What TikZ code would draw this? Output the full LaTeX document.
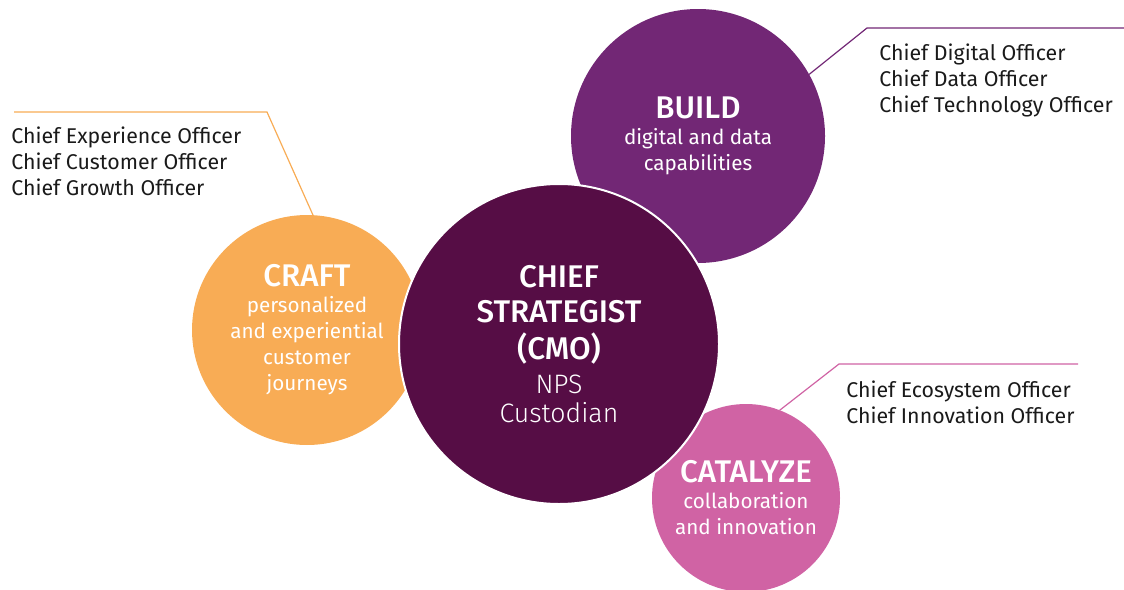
\documentclass[tikz,border=0pt]{standalone}
\usepackage{fontspec}
\setmainfont{Fira Sans}
\newfontfamily\lightfont{Fira Sans Light}
\newfontfamily\midfont{Fira Sans Medium}
\usetikzlibrary{positioning}
\definecolor{plum}{HTML}{560D45}
\definecolor{grape}{HTML}{722775}
\definecolor{apricot}{HTML}{F8AC55}
\definecolor{orchid}{HTML}{D063A4}
\definecolor{ink}{HTML}{1A1A1A}
\newcommand\headfont{\midfont\fontsize{23.5}{24}\selectfont}
\newcommand\hubfont{\midfont\fontsize{23.5}{26}\selectfont}
\newcommand\bodyfont{\normalfont\fontsize{15.5}{19.5}\selectfont}
\newcommand\listfont{\fontsize{16}{19.5}\selectfont}
\newcommand\thinfont{\lightfont\fontsize{20}{22}\selectfont}

\begin{document}
\begin{tikzpicture}[x=0.75pt,y=-0.75pt,
    blob/.style={circle,inner sep=0pt,outer sep=0pt,text=white,align=center,font=\bodyfont},
    officers/.style={anchor=north west,inner sep=0pt,align=left,text=ink,font=\listfont},
    leader/.style={line width=0.9pt}]

    \useasboundingbox (0,0) rectangle (1124,589);

    % the three outer circles
    \node[blob, fill=apricot, minimum size=172.5pt] (craft) at (307,330)
        {\headfont CRAFT\\\bodyfont personalized\\\bodyfont and experiential\\\bodyfont customer\\\bodyfont journeys};
    \node[blob, fill=grape, minimum size=190.5pt] (build) at (698,136)
        {\headfont BUILD\\\bodyfont digital and data\\\bodyfont capabilities};
    \node[blob, fill=orchid, minimum size=141pt] (catalyze) at (746,498)
        {\headfont CATALYZE\\\bodyfont collaboration\\\bodyfont and innovation};

    % the hub
    \node[blob, fill=plum, draw=white, line width=1.5pt, minimum size=240pt] (cmo) at (559,344)
        {\hubfont CHIEF\\[6.75pt]\hubfont STRATEGIST\\[6.75pt]\hubfont (CMO)\\[6pt]\thinfont NPS\\[2pt]\thinfont Custodian};

    % leaders
    \coordinate (craftbend) at (267,112);
    \coordinate (craftend) at (14,112);
    \coordinate (buildbend) at (867,28);
    \coordinate (buildend) at (1124,28);
    \coordinate (catbend) at (839,364);
    \coordinate (catend) at (1078,364);

    \draw[leader, apricot] (craft.87) -- (craftbend) -- (craftend);
    \draw[leader, grape] (build.29) -- (buildbend) -- (buildend);
    \draw[leader, orchid] (catalyze.69) -- (catbend) -- (catend);

    % officer lists
    \node[officers] (craftlist) at (11,127) {Chief Experience Officer\\Chief Customer Officer\\Chief Growth Officer};
    \node[officers] (buildlist) at (879,44) {Chief Digital Officer\\Chief Data Officer\\Chief Technology Officer};
    \node[officers] (catlist) at (846,381) {Chief Ecosystem Officer\\Chief Innovation Officer};

\end{tikzpicture}
\end{document}
